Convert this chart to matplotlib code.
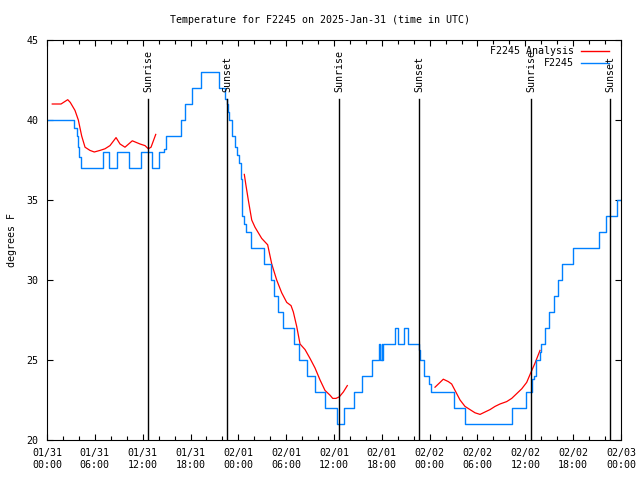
import matplotlib
matplotlib.use("Agg")
import matplotlib.pyplot as plt
import matplotlib.transforms as mtransforms

# tiempos en horas desde 2025-01-31 00:00 UTC
obs_hours = [0.0, 3.42, 3.73, 3.89, 4.05, 4.23, 7.02, 7.78, 8.78, 10.29, 11.79, 13.11,
             14.05, 14.68, 14.93, 16.81, 17.37, 18.25, 19.26, 21.54, 22.33, 22.52, 22.70,
             22.89, 23.21, 23.52, 23.83, 24.08, 24.30, 24.40, 24.52, 24.77, 24.96, 25.59,
             27.16, 28.10, 28.47, 28.98, 29.60, 30.95, 31.67, 32.65, 33.58, 34.87, 36.34,
             37.26, 38.51, 39.51, 40.77, 41.65, 41.83, 41.96, 42.08, 42.19, 43.59, 43.99,
             44.84, 45.25, 46.63, 46.73, 47.35, 47.86, 48.17, 51.05, 52.37, 58.33, 60.09,
             60.84, 61.03, 61.40, 61.78, 61.97, 62.47, 62.97, 63.60, 64.10, 64.60, 65.92,
             69.18, 70.18, 71.44, 71.96]
obs_temp = [40, 39.5, 39, 38.3, 37.7, 37, 38, 37, 38, 37, 38, 37,
            38, 38.2, 39, 40, 41, 42, 43, 42, 41.3, 41, 40.5,
            40, 39, 38.3, 37.8, 37.3, 36.3, 35, 34, 33.5, 33, 32,
            31, 30, 29, 28, 27, 26, 25, 24, 23, 22, 21,
            22, 23, 24, 25, 26, 25, 26, 25, 26, 27, 26,
            27, 26, 25.6, 25, 24, 23.5, 23, 22, 21, 22, 23,
            23.8, 24, 25, 25.5, 26, 27, 28, 29, 30, 31, 32,
            33, 34, 35, 35]

# analisis (tres tramos con huecos)
ana1_hours = [0.66, 1.76, 2.60, 2.92, 3.51, 3.93, 4.35, 4.77, 5.39, 5.93, 6.65, 7.27,
              7.90, 8.66, 9.16, 9.78, 10.70, 11.67, 12.29, 12.71, 13.05, 13.64]
ana1_temp = [41.0, 41.0, 41.27, 41.1, 40.6, 40.0, 39.0, 38.3, 38.1, 38.0, 38.1, 38.2,
             38.4, 38.9, 38.5, 38.3, 38.7, 38.5, 38.4, 38.2, 38.3, 39.1]
ana2_hours = [24.75, 24.93, 25.25, 25.68, 26.09, 26.93, 27.68, 28.19, 28.81, 29.44, 30.07,
              30.61, 30.90, 31.32, 31.74, 32.37, 32.99, 33.62, 34.25, 34.87, 35.50, 35.84,
              36.25, 36.67, 37.17, 37.67]
ana2_temp = [36.6, 36.0, 35.0, 33.75, 33.3, 32.6, 32.2, 31.0, 30.0, 29.2, 28.6,
             28.4, 28.0, 27.1, 26.0, 25.65, 25.1, 24.5, 23.75, 23.1, 22.8, 22.6,
             22.6, 22.7, 23.0, 23.4]
ana3_hours = [48.67, 49.30, 49.71, 50.34, 50.76, 51.18, 51.81, 52.43, 53.06, 53.69, 54.32,
              54.94, 55.57, 56.20, 56.82, 57.66, 58.29, 58.92, 59.55, 60.17, 60.68, 61.21,
              61.84]
ana3_temp = [23.3, 23.6, 23.8, 23.65, 23.5, 23.1, 22.5, 22.1, 21.9, 21.7, 21.6,
             21.75, 21.9, 22.1, 22.25, 22.4, 22.6, 22.9, 23.2, 23.6, 24.2, 24.8,
             25.6]

sun_hours = [12.73, 22.64, 36.67, 46.70, 60.75, 70.66]
sun_labels = ["Sunrise", "Sunset", "Sunrise", "Sunset", "Sunrise", "Sunset"]

xtick_hours = list(range(0, 73, 6))
xtick_labels = ["01/31\n00:00", "01/31\n06:00", "01/31\n12:00", "01/31\n18:00",
                "02/01\n00:00", "02/01\n06:00", "02/01\n12:00", "02/01\n18:00",
                "02/02\n00:00", "02/02\n06:00", "02/02\n12:00", "02/02\n18:00",
                "02/03\n00:00"]
ytick_vals = [20, 25, 30, 35, 40, 45]

plt.rcParams['font.family'] = ['DejaVu Sans Mono']
plt.rcParams['font.size'] = 7.2

fig = plt.figure(figsize=(6.4, 4.8), dpi=100)
ax = fig.add_axes([47/640, 40/480, 574/640, 400/480])

red = '#ff0000'
blue = '#0080ff'

for hh, tt in [(ana1_hours, ana1_temp), (ana2_hours, ana2_temp), (ana3_hours, ana3_temp)]:
    ax.plot(hh, tt, color=red, lw=0.9)
ax.plot(obs_hours, obs_temp, color=blue, lw=1.0, drawstyle='steps-post')

# lineas de amanecer / atardecer
trans = mtransforms.blended_transform_factory(ax.transData, ax.transAxes)
for h, lab in zip(sun_hours, sun_labels):
    ax.axvline(h, ymin=0, ymax=0.8525, color='black', lw=1.0)
    ax.text(h, 0.87, lab, rotation=90, ha='center', va='bottom', transform=trans)

# leyenda estilo gnuplot
ax.text(0.9186, 0.9733, "F2245 Analysis", ha='right', va='center', transform=ax.transAxes)
ax.plot([0.930, 0.9794], [0.9733, 0.9733], color=red, lw=1.0, transform=ax.transAxes)
ax.text(0.9186, 0.9433, "F2245", ha='right', va='center', transform=ax.transAxes)
ax.plot([0.930, 0.9794], [0.9433, 0.9433], color=blue, lw=1.0, transform=ax.transAxes)

ax.set_xlim(0, 72)
ax.set_ylim(20, 45)
ax.set_xticks(xtick_hours)
ax.set_xticklabels(xtick_labels)
ax.set_xticks(range(0, 73, 2), minor=True)
ax.set_yticks(ytick_vals)
ax.set_yticklabels([str(v) for v in ytick_vals])
ax.tick_params(which='both', direction='in', top=True, right=True, width=0.8, pad=6)
ax.tick_params(which='major', length=4.5)
ax.tick_params(which='minor', length=3)
for s in ax.spines.values():
    s.set_linewidth(0.8)

ax.set_ylabel("degrees F", labelpad=7)
fig.text(0.5, 1 - 20/480, "Temperature for F2245 on 2025-Jan-31 (time in UTC)",
         ha='center', va='center')

fig.savefig("out.png", dpi=100)
